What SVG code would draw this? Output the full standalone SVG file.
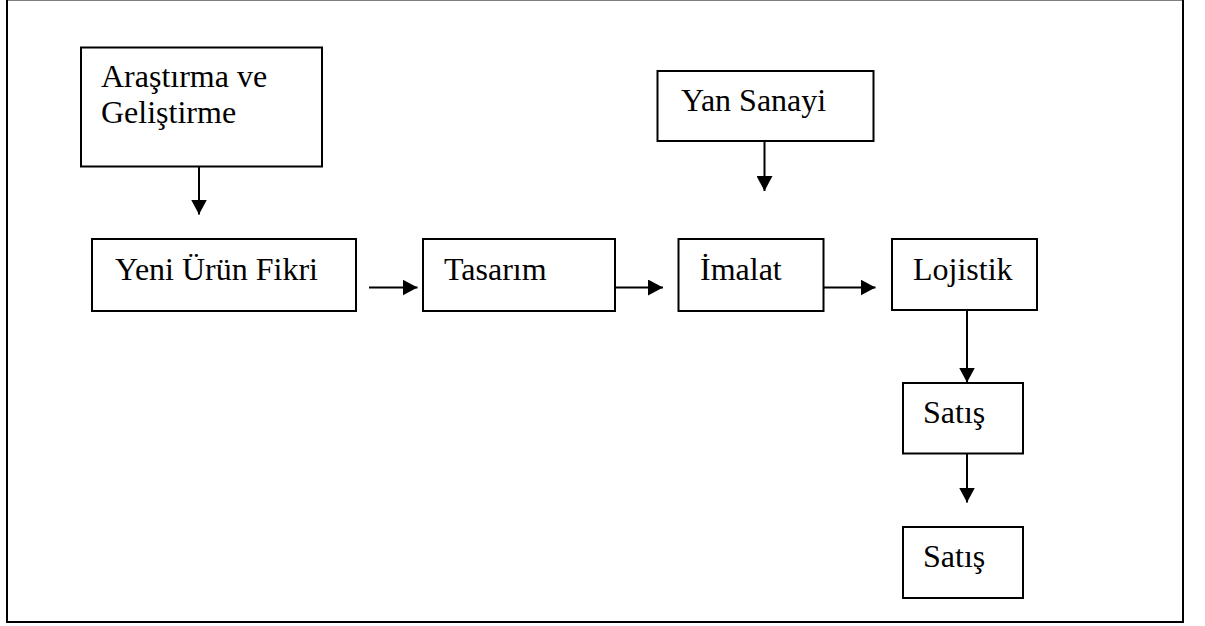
<svg xmlns="http://www.w3.org/2000/svg" width="1205" height="626" viewBox="0 0 1205 626">
<defs>
<marker id="ah" markerUnits="userSpaceOnUse" markerWidth="16" markerHeight="16" refX="15" refY="8" orient="auto">
<path d="M0,0 L15,8 L0,16 z" fill="#000"/>
</marker>
<style>
.box{fill:#fff;stroke:#000;stroke-width:2}
.t{font-size:32px;fill:#000}
.c{stroke:#000;stroke-width:2;fill:none;marker-end:url(#ah)}
</style>
</defs>
<rect x="0" y="0" width="1205" height="626" fill="#fff"/>
<rect x="7" y="-0.5" width="1176" height="622.5" fill="none" stroke="#000" stroke-width="2"/>
<g font-family="'Liberation Serif', 'Times New Roman', 'DejaVu Serif', serif">
<g id="arge"><rect class="box" x="81" y="47.5" width="241" height="119"/><text class="t" x="101" y="87">Araştırma ve</text><text class="t" x="101" y="123">Geliştirme</text></g>
<g id="yeni"><rect class="box" x="92" y="239" width="264" height="72"/><text class="t" x="115" y="280">Yeni Ürün Fikri</text></g>
<g id="tasarim"><rect class="box" x="423" y="239" width="192" height="72"/><text class="t" x="444" y="280">Tasarım</text></g>
<g id="yansanayi"><rect class="box" x="657.5" y="71" width="216" height="70"/><text class="t" x="681" y="111">Yan Sanayi</text></g>
<g id="imalat"><rect class="box" x="678.5" y="239" width="145" height="72"/><text class="t" x="700" y="280">İmalat</text></g>
<g id="lojistik"><rect class="box" x="892" y="239" width="145" height="71"/><text class="t" x="913" y="280">Lojistik</text></g>
<g id="satis1"><rect class="box" x="903" y="383" width="120" height="70.5"/><text class="t" x="923" y="423">Satış</text></g>
<g id="satis2"><rect class="box" x="903" y="527" width="120" height="71"/><text class="t" x="923" y="567">Satış</text></g>
</g>
<g id="connectors">
<line class="c" x1="199" y1="167" x2="199" y2="214.5"/>
<line class="c" x1="369" y1="287.5" x2="417.5" y2="287.5"/>
<line class="c" x1="615" y1="287.5" x2="663" y2="287.5"/>
<line class="c" x1="764.5" y1="141" x2="764.5" y2="191"/>
<line class="c" x1="823.5" y1="287.5" x2="875.5" y2="287.5"/>
<line class="c" x1="967" y1="310" x2="967" y2="382.5"/>
<line class="c" x1="967" y1="453.5" x2="967" y2="502.5"/>
</g>
</svg>
